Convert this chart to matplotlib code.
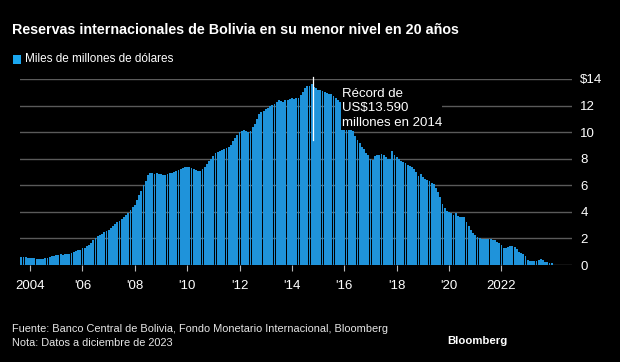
import numpy as np
import matplotlib
matplotlib.use('Agg')
import matplotlib.pyplot as plt

plt.rcParams['font.family'] = ['Liberation Sans', 'DejaVu Sans']

# monthly reserves, billions of USD, Sep 2003 .. Dec 2023
reserves = [
  0.62, 0.58, 0.60, 0.55,                                              # 2003 (Sep-Dec)
  0.55, 0.52, 0.50, 0.48, 0.45, 0.45, 0.47, 0.50, 0.55, 0.60, 0.65, 0.70,  # 2004
  0.75, 0.78, 0.80, 0.78, 0.80, 0.82, 0.85, 0.90, 1.00, 1.05, 1.10, 1.15,  # 2005
  1.25, 1.30, 1.40, 1.50, 1.65, 1.85, 2.05, 2.15, 2.25, 2.35, 2.45, 2.55,  # 2006
  2.65, 2.75, 2.90, 3.05, 3.20, 3.30, 3.45, 3.60, 3.80, 3.95, 4.15, 4.35,  # 2007
  4.55, 4.90, 5.30, 5.60, 6.00, 6.35, 6.75, 6.95, 6.90, 6.85, 6.90, 6.85,  # 2008
  6.85, 6.80, 6.80, 6.85, 6.90, 6.95, 7.00, 7.10, 7.15, 7.25, 7.30, 7.40,  # 2009
  7.40, 7.35, 7.30, 7.25, 7.15, 7.10, 7.10, 7.20, 7.35, 7.60, 7.80, 7.95,  # 2010
  8.20, 8.45, 8.50, 8.60, 8.65, 8.70, 8.80, 8.85, 9.00, 9.30, 9.55, 9.80,  # 2011
  10.00, 10.10, 10.15, 10.05, 10.00, 10.05, 10.35, 10.65, 11.00, 11.35, 11.50, 11.60,  # 2012
  11.75, 11.85, 11.95, 12.05, 12.15, 12.30, 12.40, 12.35, 12.30, 12.40, 12.45, 12.50,  # 2013
  12.55, 12.50, 12.55, 12.60, 12.80, 13.00, 13.35, 13.45, 13.50, 13.59, 13.40, 13.30,  # 2014
  13.20, 13.15, 13.10, 13.00, 12.95, 12.90, 12.85, 12.75, 12.60, 12.40, 12.25, 12.10,  # 2015
  12.00, 11.50, 11.10, 10.60, 10.10, 9.70, 9.40, 9.15, 8.90, 8.70, 8.45, 8.30,  # 2016
  8.00, 7.90, 8.20, 8.30, 8.30, 8.35, 8.30, 8.15, 8.00, 7.95, 8.60, 8.30,  # 2017
  8.10, 8.00, 7.85, 7.75, 7.70, 7.55, 7.45, 7.35, 7.20, 7.00, 6.70, 6.85,  # 2018
  6.60, 6.50, 6.40, 6.30, 6.20, 6.10, 5.80, 5.50, 5.10, 4.60, 4.30, 4.10,  # 2019
  4.00, 3.90, 3.80, 3.95, 3.70, 3.65, 3.65, 3.60, 3.20, 2.90, 2.60, 2.40,  # 2020
  2.25, 2.10, 2.00, 1.95, 1.95, 1.95, 1.95, 1.95, 1.90, 1.85, 1.75, 1.65,  # 2021
  1.50, 1.30, 1.25, 1.35, 1.40, 1.40, 1.35, 1.20, 1.00, 0.90, 0.80, 0.70,  # 2022
  0.35, 0.30, 0.30, 0.28, 0.30, 0.38, 0.42, 0.40, 0.25, 0.20, 0.18, 0.13,  # 2023
]
first_month = -4  # months relative to Jan 2004

tick_months = [0, 24, 48, 72, 96, 120, 144, 168, 192, 216]
tick_labels = ['2004', "'06", "'08", "'10", "'12", "'14", "'16", "'18", "'20", '2022']
y_ticks = [0, 2, 4, 6, 8, 10, 12, 14]
y_labels = ['0', '2', '4', '6', '8', '10', '12', '$14']

record_label = 'Récord de\nUS$13.590\nmillones en 2014'

BG = '#000000'
BAR = '#1f93da'
FG = '#ffffff'
GRID = '#5a5a5a'

fig = plt.figure(figsize=(6.2, 3.62), dpi=100, facecolor=BG)
ax = fig.add_axes([20/620, 1-265/362, 552/620, (265-79)/362], facecolor=BG)

months = np.arange(len(reserves)) + first_month
ax.bar(months, reserves, width=0.84, color=BAR, linewidth=0, zorder=2)

ax.set_xlim(-4.6, 248.3)
ax.set_ylim(0, 14)

for s in ax.spines.values():
  s.set_visible(False)

ax.yaxis.tick_right()
ax.set_yticks(y_ticks)
ax.set_yticklabels(y_labels)
ax.tick_params(axis='y', length=0, pad=6, labelsize=9.5, labelcolor=FG)
for lbl in ax.get_yticklabels():
  lbl.set_horizontalalignment('left')
ax.grid(axis='y', color=GRID, linewidth=1, zorder=0)

ax.set_xticks(tick_months)
ax.set_xticklabels(tick_labels)
ax.tick_params(axis='x', length=4, width=0.8, color='#bbbbbb', pad=7, labelsize=9.5, labelcolor=FG)

# record annotation
i_max = int(np.argmax(reserves))
x_max = months[i_max] + 0.5
ax.plot([x_max, x_max], [9.4, 14.15], color=FG, linewidth=0.9, zorder=4, clip_on=False)
ax.text(x_max + 13.2, 13.35, record_label, color=FG, fontsize=9.5, va='top', ha='left',
        linespacing=1.3, zorder=5,
        bbox=dict(facecolor=BG, edgecolor='none', pad=0.5))

fig.text(12/620, 1-30/362, 'Reservas internacionales de Bolivia en su menor nivel en 20 años',
         color=FG, fontsize=10.3, fontweight='bold', va='center', ha='left')
fig.patches.append(plt.Rectangle((13/620, 1-63.5/362), 8/620, 8/362, transform=fig.transFigure,
                                 facecolor='#1aa7f0', edgecolor='none'))
fig.text(25/620, 1-59/362, 'Miles de millones de dólares', color=FG, fontsize=8.5,
         va='center', ha='left')

fig.text(12/620, 1-329/362, 'Fuente: Banco Central de Bolivia, Fondo Monetario Internacional, Bloomberg',
         color='#e6e6e6', fontsize=7.9, va='center', ha='left')
fig.text(12/620, 1-343/362, 'Nota: Datos a diciembre de 2023',
         color='#e6e6e6', fontsize=7.9, va='center', ha='left')
fig.text(507/620, 1-341/362, 'Bloomberg', color=FG, fontsize=8.2, fontweight='bold',
         va='center', ha='right')

fig.savefig('out.png', dpi=100, facecolor=BG)
